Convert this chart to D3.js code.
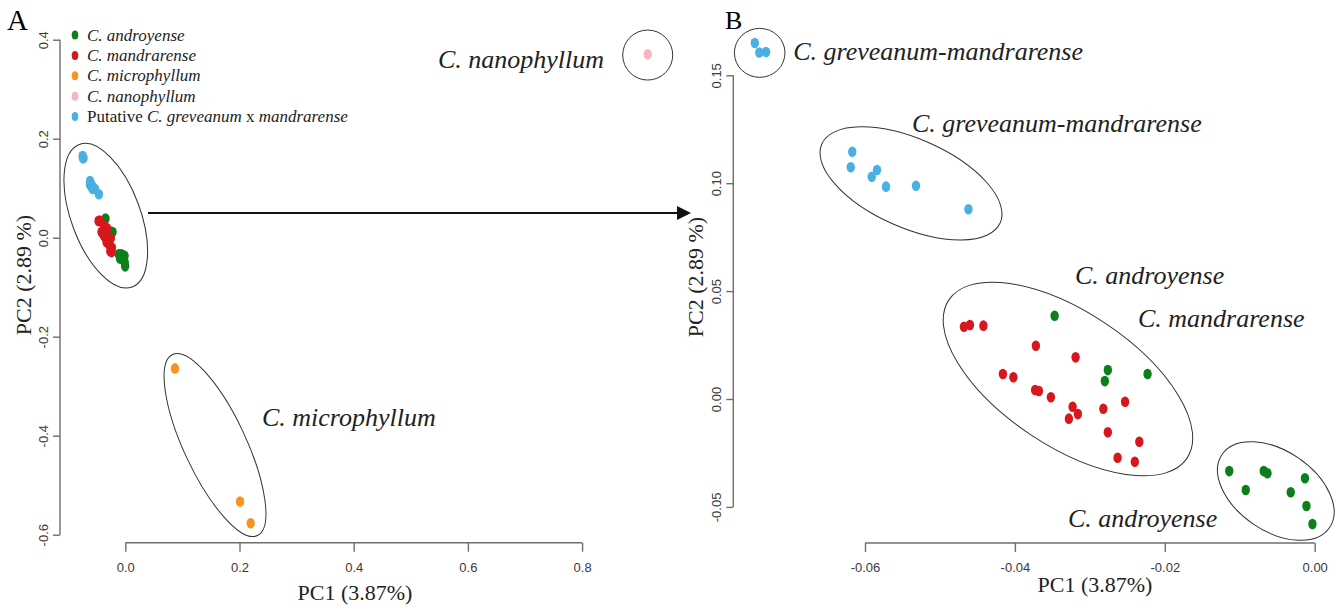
<!DOCTYPE html>
<html>
<head>
<meta charset="utf-8">
<title>PCA Cynanchum</title>
<script src="https://cdn.jsdelivr.net/npm/d3@7"></script>
<style>
body { margin: 0; background: #fff; }
text { font-family: "Liberation Serif", "Times New Roman", serif; }
.tick text { font-family: "Liberation Sans Narrow", "Liberation Sans", Arial, sans-serif; }
</style>
</head>
<body>
<script type="text/javascript">

// PC1 / PC2 scores
var androyenseX = [-0.0347, -0.0276, -0.0280, -0.0223, -0.0114, -0.0092, -0.0068, -0.0063, -0.0032, -0.0013, -0.0011, -0.0003];
var androyenseY = [0.0386, 0.0134, 0.0083, 0.0116, -0.0334, -0.0422, -0.0334, -0.0344, -0.0432, -0.0367, -0.0496, -0.0579];

var mandrarenseX = [-0.0468, -0.0460, -0.0442, -0.0372, -0.0319, -0.0416, -0.0402, -0.0373, -0.0368, -0.0352,
                    -0.0323, -0.0316, -0.0328, -0.0282, -0.0253, -0.0276, -0.0234, -0.0263, -0.0240];
var mandrarenseY = [0.0335, 0.0343, 0.0340, 0.0247, 0.0193, 0.0116, 0.0101, 0.0042, 0.0037, 0.0008,
                    -0.0036, -0.0070, -0.0091, -0.0045, -0.0013, -0.0154, -0.0198, -0.0272, -0.0291];

var greveanumX = [-0.0747, -0.0741, -0.0732, -0.0617, -0.0619, -0.0584, -0.0591, -0.0572, -0.0532, -0.0462];
var greveanumY = [0.1650, 0.1606, 0.1608, 0.1146, 0.1074, 0.1061, 0.1030, 0.0984, 0.0988, 0.0879];

var microphyllumX = [0.087, 0.201, 0.2196];
var microphyllumY = [-0.264, -0.533, -0.577];

var nanophyllumX = [0.915];
var nanophyllumY = [0.3705];

var legendNames = ["androyense", "mandrarense", "microphyllum", "nanophyllum", "greveanum"];
var colors = {androyense: "#0c7f1c", mandrarense: "#d8161e", microphyllum: "#f7941d",
              nanophyllum: "#f6b5c0", greveanum: "#4aafe2"};

var ticksAx = [0.0, 0.2, 0.4, 0.6, 0.8];
var ticksAy = [-0.6, -0.4, -0.2, 0.0, 0.2, 0.4];
var ticksBx = [-0.06, -0.04, -0.02, 0.00];
var ticksBy = [-0.05, 0.00, 0.05, 0.10, 0.15];

// group ellipses: centre in data units, radii / angle in pixels
var ellipsesA = [{cx: -0.0342, cy: 0.0444, rx: 76, ry: 34.6, a: 69.7},
                 {cx: 0.1571, cy: -0.4188, rx: 100, ry: 31, a: 64.9},
                 {cx: 0.9149, cy: 0.369, rx: 25, ry: 25, a: 0}];
var ellipsesB = [{cx: -0.07405, cy: 0.1604, rx: 25.3, ry: 24.5, a: 0},
                 {cx: -0.05386, cy: 0.0999, rx: 97.5, ry: 44.4, a: 23.8},
                 {cx: -0.03292, cy: 0.00927, rx: 143, ry: 67, a: 33.6},
                 {cx: -0.00519, cy: -0.04263, rx: 65, ry: 40, a: 34.2}];

var labelsA = [{t: "C. nanophyllum", x: 0.5476, y: 0.3428},
               {t: "C. microphyllum", x: 0.2394, y: -0.3806}];
var labelsB = [{t: "C. greveanum-mandrarense", x: -0.06958, y: 0.1571},
               {t: "C. greveanum-mandrarense", x: -0.05374, y: 0.1237},
               {t: "C. androyense", x: -0.03198, y: 0.0533},
               {t: "C. mandrarense", x: -0.02358, y: 0.0334},
               {t: "C. androyense", x: -0.03292, y: -0.0593}];

function pts(name, xs, ys){
  return xs.map(function(v, i){ return {sp: name, x: v, y: ys[i]}; });
}

var cluster = pts("androyense", androyenseX, androyenseY)
  .concat(pts("mandrarense", mandrarenseX, mandrarenseY))
  .concat(pts("greveanum", greveanumX, greveanumY));
var allA = cluster.concat(pts("microphyllum", microphyllumX, microphyllumY))
                  .concat(pts("nanophyllum", nanophyllumX, nanophyllumY));

var svg = d3.select("body").append("svg")
  .attr("width", 1338).attr("height", 609);

var xA = d3.scaleLinear().domain([0, 0.8]).range([125.3, 582.1]);
var yA = d3.scaleLinear().domain([-0.6, 0.4]).range([534.7, 39.7]);
var xB = d3.scaleLinear().domain([-0.06, 0]).range([865, 1314.7]);
var yB = d3.scaleLinear().domain([-0.05, 0.15]).range([506.9, 75.3]);

function drawAxes(x, y, xt, yt, xAxisY, yAxisX, fmt){
  var gx = svg.append("g").attr("transform", "translate(0," + xAxisY + ")")
    .call(d3.axisBottom(x).tickValues(xt).tickSize(9).tickSizeOuter(0).tickFormat(fmt));
  gx.select(".domain").remove();
  gx.append("line").attr("x1", x(xt[0])).attr("x2", x(xt[xt.length - 1]))
    .attr("stroke", "#6e6e6e").attr("stroke-width", 1.4);
  gx.selectAll(".tick line").attr("stroke", "#6e6e6e").attr("stroke-width", 1.4);
  gx.selectAll(".tick text").attr("y", 20).attr("font-size", 13).attr("fill", "#3a3a3a");

  var gy = svg.append("g").attr("transform", "translate(" + yAxisX + ",0)")
    .call(d3.axisLeft(y).tickValues(yt).tickSize(7).tickSizeOuter(0).tickFormat(fmt));
  gy.select(".domain").remove();
  gy.append("line").attr("y1", y(yt[0])).attr("y2", y(yt[yt.length - 1]))
    .attr("stroke", "#6e6e6e").attr("stroke-width", 1.4);
  gy.selectAll(".tick line").attr("stroke", "#6e6e6e").attr("stroke-width", 1.4);
  gy.selectAll(".tick text")
    .attr("x", 0).attr("dy", 0)
    .attr("transform", "translate(-17,0) rotate(-90)")
    .attr("text-anchor", "middle").attr("dominant-baseline", "central")
    .attr("font-size", 13).attr("fill", "#3a3a3a");
}

// R style labels use a plain hyphen for negatives
function fmt1(d){ return d3.format(".1f")(d).replace("\u2212", "-"); }
function fmt2(d){ return d3.format(".2f")(d).replace("\u2212", "-"); }

drawAxes(xA, yA, ticksAx, ticksAy, 542.7, 60, fmt1);
drawAxes(xB, yB, ticksBx, ticksBy, 543, 733.3, fmt2);

function drawEllipses(list, x, y){
  svg.append("g").selectAll("ellipse").data(list).enter().append("ellipse")
    .attr("transform", function(d){ return "translate(" + x(d.cx) + "," + y(d.cy) + ") rotate(" + d.a + ")"; })
    .attr("rx", function(d){ return d.rx; })
    .attr("ry", function(d){ return d.ry; })
    .attr("fill", "none").attr("stroke", "#333").attr("stroke-width", 1);
}
drawEllipses(ellipsesA, xA, yA);
drawEllipses(ellipsesB, xB, yB);

function drawPoints(data, x, y){
  svg.append("g").selectAll("ellipse").data(data).enter().append("ellipse")
    .attr("cx", function(d){ return x(d.x); })
    .attr("cy", function(d){ return y(d.y); })
    .attr("rx", 4.2).attr("ry", 5.3)
    .attr("fill", function(d){ return colors[d.sp]; });
}
drawPoints(allA, xA, yA);
drawPoints(cluster, xB, yB);

function drawLabels(list, x, y){
  svg.append("g").selectAll("text").data(list).enter().append("text")
    .attr("x", function(d){ return x(d.x); })
    .attr("y", function(d){ return y(d.y); })
    .attr("font-size", 26).attr("font-style", "italic").attr("fill", "#222")
    .text(function(d){ return d.t; });
}
drawLabels(labelsA, xA, yA);
drawLabels(labelsB, xB, yB);

// legend
var leg = svg.append("g");
var legText = [
  [["C. androyense", true]],
  [["C. mandrarense", true]],
  [["C. microphyllum", true]],
  [["C. nanophyllum", true]],
  [["Putative ", false], ["C. greveanum", true], [" x ", false], ["mandrarense", true]]
];
legendNames.forEach(function(n, i){
  var yy = 35 + i * 20.4;
  leg.append("ellipse").attr("cx", 75).attr("cy", yy).attr("rx", 3.3).attr("ry", 4.5)
    .attr("fill", colors[n]);
  var t = leg.append("text").attr("x", 87).attr("y", yy + 5.5)
    .attr("font-size", 17).attr("fill", "#222");
  legText[i].forEach(function(p){
    t.append("tspan").attr("font-style", p[1] ? "italic" : "normal")
      .attr("xml:space", "preserve").text(p[0]);
  });
});

// panel letters and axis titles
svg.append("text").attr("x", 7).attr("y", 29.5).attr("font-size", 29).text("A");
svg.append("text").attr("x", 725).attr("y", 28.5).attr("font-size", 26).text("B");

svg.append("text").attr("x", 355).attr("y", 600).attr("text-anchor", "middle")
  .attr("font-size", 22).attr("fill", "#222").text("PC1 (3.87%)");
svg.append("text").attr("x", 1095).attr("y", 592).attr("text-anchor", "middle")
  .attr("font-size", 22).attr("fill", "#222").text("PC1 (3.87%)");
svg.append("text").attr("transform", "translate(31,275) rotate(-90)").attr("text-anchor", "middle")
  .attr("font-size", 22).attr("fill", "#222").text("PC2 (2.89 %)");
svg.append("text").attr("transform", "translate(703,277) rotate(-90)").attr("text-anchor", "middle")
  .attr("font-size", 22).attr("fill", "#222").text("PC2 (2.89 %)");

// arrow from panel A cluster to panel B
svg.append("line").attr("x1", 148).attr("y1", 213).attr("x2", 679).attr("y2", 213)
  .attr("stroke", "#111").attr("stroke-width", 2);
svg.append("path").attr("d", "M677,206 L691,213 L677,220 Z").attr("fill", "#111");

</script>
</body>
</html>
